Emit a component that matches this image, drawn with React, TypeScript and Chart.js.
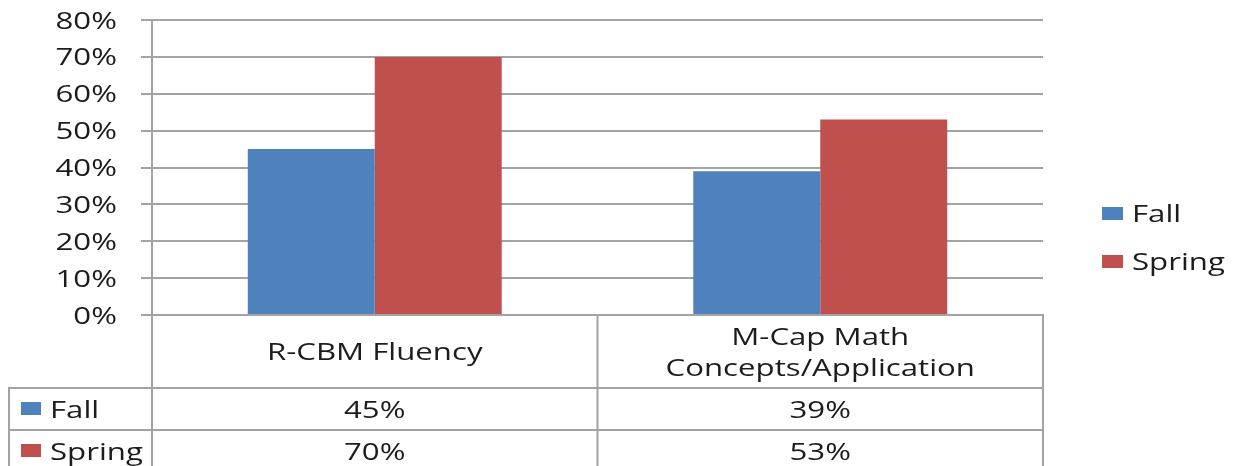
import React, { useEffect, useRef } from 'react';
import { Chart, registerables } from 'chart.js';

Chart.register(...registerables);

// ---- data ----
const categories: (string | string[])[] = ['R-CBM Fluency', ['M-Cap Math', 'Concepts/Application']];
const seriesNames: string[] = ['Fall', 'Spring'];
const fallValues: number[] = [0.45, 0.39];
const springValues: number[] = [0.7, 0.53];
const seriesColors: string[] = ['#4F81BD', '#C0504D'];
const yMin = 0;
const yMax = 0.8;
const yStep = 0.1;

// ---- style ----
const FONT = 'Open Sans';
const FS = 24;
const SX = 1.3; // horizontal text stretch, as in the reference
const TEXT = '#1c1c1c';
const LINE = '#a3a3a3';
const W = 1228;
const H = 458;
const HEADER_H = 73;
const ROW_H = 42;
const CAP = 8.5; // half cap height

const pct = (v: number) => `${Math.round(v * 100)}%`;

function drawText(ctx: CanvasRenderingContext2D, text: string, x: number, y: number, align: CanvasTextAlign) {
  ctx.save();
  ctx.translate(x, y);
  ctx.scale(SX, 1);
  ctx.textAlign = align;
  ctx.textBaseline = 'alphabetic';
  ctx.fillStyle = TEXT;
  ctx.font = `${FS}px "${FONT}"`;
  ctx.fillText(text, 0, 0);
  ctx.restore();
}

const tablePlugin = {
  id: 'dataTableAndLegend',
  afterDraw(chart: any) {
    const { ctx, chartArea, scales } = chart;
    const xs = scales.x;
    const ys = scales.y;
    const datasets = chart.data.datasets;
    const labels = chart.data.labels;
    const n = labels.length;
    const centers: number[] = labels.map((_: any, i: number) => xs.getPixelForValue(i));
    const half = (chartArea.right - chartArea.left) / n / 2;
    const bounds = [chartArea.left, ...centers.map((c) => c + half)];
    const top = chartArea.bottom;
    const headerBottom = top + HEADER_H;
    const bottom = chart.height;

    ctx.save();
    // table grid
    ctx.strokeStyle = LINE;
    ctx.lineWidth = 2;
    ctx.beginPath();
    datasets.forEach((_: any, r: number) => {
      const y = headerBottom + r * ROW_H;
      ctx.moveTo(0, y);
      ctx.lineTo(chartArea.right, y);
    });
    ctx.moveTo(1, headerBottom);
    ctx.lineTo(1, bottom);
    bounds.forEach((b) => {
      ctx.moveTo(b, top);
      ctx.lineTo(b, bottom);
    });
    ctx.stroke();

    // y tick labels
    ys.ticks.forEach((t: any) => {
      drawText(ctx, pct(t.value), chartArea.left - 35, ys.getPixelForValue(t.value) + CAP, 'right');
    });

    // category labels (header row)
    const headMid = top + HEADER_H / 2;
    const lineGap = 31;
    labels.forEach((lab: string | string[], i: number) => {
      const lines = Array.isArray(lab) ? lab : [lab];
      lines.forEach((ln, k) => {
        const cy = headMid + (k - (lines.length - 1) / 2) * lineGap;
        drawText(ctx, ln, centers[i], cy + CAP, 'center');
      });
    });

    // data rows
    datasets.forEach((ds: any, r: number) => {
      const cy = headerBottom + r * ROW_H + ROW_H / 2;
      ctx.fillStyle = ds.backgroundColor;
      ctx.fillRect(13, cy - 7, 20, 13);
      drawText(ctx, ds.label, 42, cy + CAP, 'left');
      ds.data.forEach((v: number, i: number) => {
        drawText(ctx, pct(v), centers[i], cy + CAP, 'center');
      });
    });

    // legend on the right
    const lx = chartArea.right + 59;
    const mid = chart.height / 2 + 0.5;
    datasets.forEach((ds: any, r: number) => {
      const cy = mid + (r - (datasets.length - 1) / 2) * 48;
      ctx.fillStyle = ds.backgroundColor;
      ctx.fillRect(lx, cy - 6.5, 21, 13);
      drawText(ctx, ds.label, lx + 30, cy + CAP, 'left');
    });
    ctx.restore();
  },
};

export default function App() {
  const ref = useRef<HTMLCanvasElement | null>(null);

  useEffect(() => {
    if (!ref.current) return;
    const chart = new Chart(ref.current, {
      type: 'bar',
      data: {
        labels: categories,
        datasets: [
          { label: seriesNames[0], data: fallValues, backgroundColor: seriesColors[0], borderWidth: 0 },
          { label: seriesNames[1], data: springValues, backgroundColor: seriesColors[1], borderWidth: 0 },
        ],
      },
      options: {
        responsive: false,
        animation: false,
        devicePixelRatio: 1,
        datasets: { bar: { barPercentage: 1, categoryPercentage: 0.57 } },
        layout: { padding: { top: 12, right: 193, left: 0, bottom: 0 } },
        plugins: { legend: { display: false }, tooltip: { enabled: false } },
        scales: {
          x: {
            grid: { display: false, drawTicks: false },
            border: { display: true, color: LINE, width: 2 },
            ticks: { display: false, autoSkip: false },
            afterFit: (s: any) => {
              s.height = 151;
              s.paddingLeft = 0;
              s.paddingRight = 0;
            },
          },
          y: {
            min: yMin,
            max: yMax,
            ticks: { stepSize: yStep, display: false },
            grid: { color: LINE, lineWidth: 2, tickLength: 11, drawTicks: true },
            border: { color: LINE, width: 2 },
            afterFit: (s: any) => {
              s.width = 144;
              s.paddingTop = 0;
              s.paddingBottom = 0;
            },
          },
        },
      },
      plugins: [tablePlugin],
    });
    return () => chart.destroy();
  }, []);

  return (
    <div style={{ width: W, height: H }}>
      <canvas ref={ref} width={W} height={H} style={{ display: 'block', width: W, height: H }} />
    </div>
  );
}
